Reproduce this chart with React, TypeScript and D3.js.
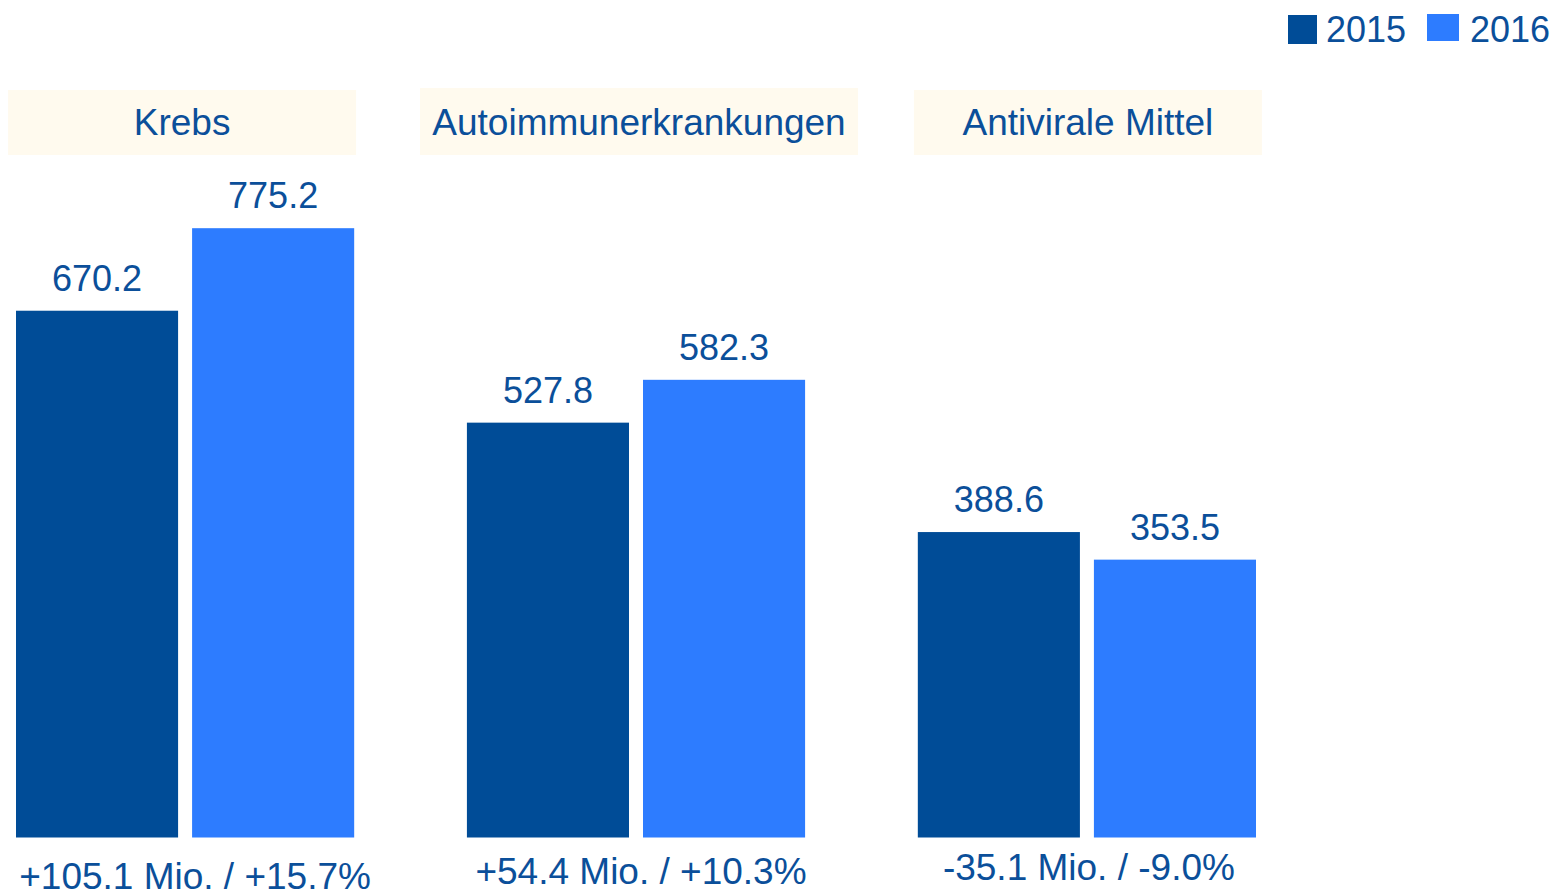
import React from "react";
import * as d3 from "d3";

const categories = ["Krebs", "Autoimmunerkrankungen", "Antivirale Mittel"];
const years = ["2015", "2016"];
const values2015 = [670.2, 527.8, 388.6];
const values2016 = [775.2, 582.3, 353.5];
const changeLabels = ["+105.1 Mio. / +15.7%", "+54.4 Mio. / +10.3%", "-35.1 Mio. / -9.0%"];

const W = 1556;
const H = 892;
const FONT = "'Liberation Sans', Arial, Helvetica, sans-serif";
const TEXT = "#0b4f9a";
const COLORS: Record<string, string> = { "2015": "#004c97", "2016": "#2d7cff" };
const BOX_FILL = "#fffaee";

// layout (not data)
const headerWidths = [348, 438, 348];
const headerDx = [-3, 3, 1];
const changeDx = [10, 5, 2];
const changeBaseline = [889, 884, 880];

export default function App() {
  const x0 = d3.scaleBand<string>().domain(categories).range([16, 1256]).paddingInner(0.25).paddingOuter(0);
  const x1 = d3.scaleBand<string>().domain(years).range([0, x0.bandwidth()]).paddingInner(0.0795).paddingOuter(0);
  const y = d3.scaleLinear().domain([0, 1000]).range([837.5, 837.5 - 786]);

  const rows = categories.map((c, i) => ({
    cat: c,
    vals: [
      { year: "2015", v: values2015[i] },
      { year: "2016", v: values2016[i] },
    ],
  }));

  return (
    <div style={{ position: "absolute", left: 0, top: 0 }}>
      <svg width={W} height={H} style={{ display: "block" }} fontFamily={FONT}>
        <rect x={0} y={0} width={W} height={H} fill="#ffffff" />
        {/* legend */}
        <rect x={1288} y={15} width={29} height={29} fill={COLORS["2015"]} />
        <text x={1326} y={42} fontSize={36} fill={TEXT}>2015</text>
        <rect x={1427} y={14} width={32} height={27} fill={COLORS["2016"]} />
        <text x={1470} y={42} fontSize={36} fill={TEXT}>2016</text>

        {rows.map((r, i) => {
          const gx = x0(r.cat)!;
          const cx = gx + x0.bandwidth() / 2;
          const hw = headerWidths[i];
          return (
            <g key={r.cat}>
              <rect x={cx + headerDx[i] - hw / 2} y={i === 1 ? 88 : 90} width={hw} height={i === 1 ? 67 : 65} fill={BOX_FILL} />
              <text x={cx + headerDx[i]} y={135} fontSize={37} fill={TEXT} textAnchor="middle">{r.cat}</text>
              {r.vals.map((d) => {
                const bx = gx + x1(d.year)!;
                const by = y(d.v);
                return (
                  <g key={d.year}>
                    <rect x={bx} y={by} width={x1.bandwidth()} height={y(0) - by} fill={COLORS[d.year]} />
                    <text x={bx + x1.bandwidth() / 2} y={by - 20} fontSize={36} fill={TEXT} textAnchor="middle">
                      {d.v.toFixed(1)}
                    </text>
                  </g>
                );
              })}
              <text x={cx + changeDx[i]} y={changeBaseline[i]} fontSize={37} fill={TEXT} textAnchor="middle">
                {changeLabels[i]}
              </text>
            </g>
          );
        })}
      </svg>
    </div>
  );
}
